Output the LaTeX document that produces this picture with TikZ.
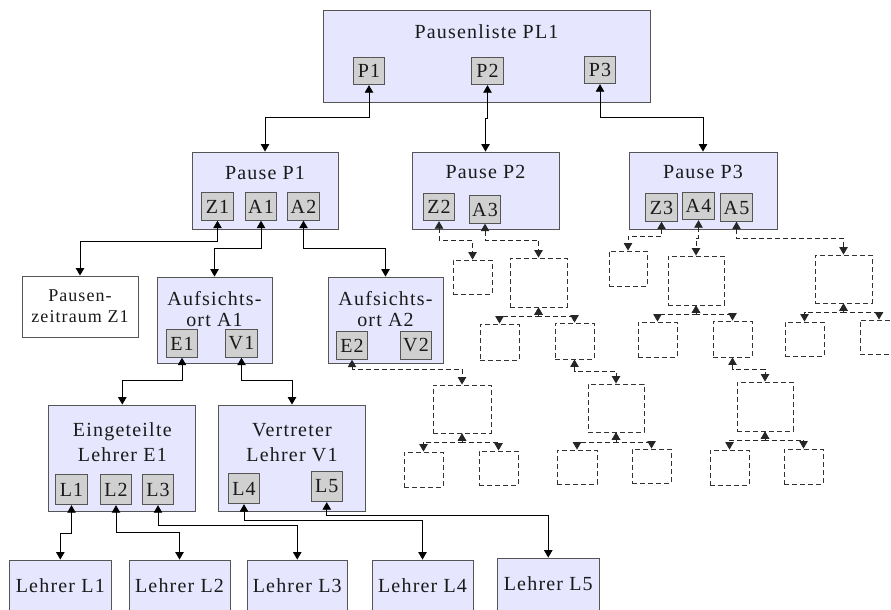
\documentclass[tikz,border=0pt]{standalone}
\usepackage{fontspec}
\setmainfont{Liberation Serif}[LetterSpace=6]
\usetikzlibrary{arrows.meta}
\definecolor{lav}{HTML}{E6E6FF}
\definecolor{subg}{HTML}{D0D0D0}
\definecolor{bord}{HTML}{555555}
\definecolor{txt}{HTML}{1A1A1A}
\newcommand\conlink[4]{\draw[#1] (#2.south) |- (#3.north |- 0,#4) -- (#3.north);}
\begin{document}
\begin{tikzpicture}[x=1pt,y=-1pt,
  every node/.style={font=\fontsize{20}{22}\selectfont, text=txt},
  box/.style={draw=bord, fill=lav, line width=0.9pt, inner sep=0pt},
  wbox/.style={box, fill=white},
  sub/.style={draw=bord, fill=subg, line width=0.9pt, inner sep=0pt, minimum width=31.5pt, minimum height=27.5pt},
  lsub/.style={sub, minimum height=30.5pt},
  dbox/.style={draw=black!80, dash pattern=on 5pt off 3pt, line width=0.9pt, inner sep=0pt},
  conn/.style={draw=black, line width=0.9pt, {Triangle[width=8.5pt,length=7.5pt]}-{Triangle[width=8.5pt,length=7.5pt]}},
  dconn/.style={conn, draw=black!85, dash pattern=on 5pt off 3pt},
  ttl/.style={anchor=base, inner sep=0pt},
  ttl2/.style={align=center, inner sep=0pt},
]
\path[use as bounding box, clip] (0,0) rectangle (891,610);

% top
\node[box, minimum width=327pt, minimum height=92pt] (PL) at (486.5,56) {};
\node[ttl] (tPL) at (486.5,38.3) {Pausenliste PL1};
\node[sub] (P1) at (369,71) {P1};
\node[sub] (P2) at (487.5,71) {P2};
\node[sub] (P3) at (600,70) {P3};

% pauses
\node[box, minimum width=146pt, minimum height=77pt] (PP1) at (265,190.5) {};
\node[ttl] (tPP1) at (265,179) {Pause P1};
\node[sub] (Z1) at (217.5,206.5) {Z1};
\node[sub] (A1) at (261,206.5) {A1};
\node[sub] (A2) at (303.5,206.5) {A2};

\node[box, minimum width=147pt, minimum height=77pt] (PP2) at (485.5,190.5) {};
\node[ttl] (tPP2) at (485.5,178) {Pause P2};
\node[sub] (Z2) at (439,207) {Z2};
\node[sub] (A3) at (485,209.5) {A3};

\node[box, minimum width=148pt, minimum height=77pt] (PP3) at (703,190.5) {};
\node[ttl] (tPP3) at (703,178) {Pause P3};
\node[sub] (Z3) at (661.5,207.5) {Z3};
\node[sub] (A4) at (698.5,206) {A4};
\node[sub] (A5) at (736.5,207.5) {A5};

% level 3
\node[wbox, minimum width=116pt, minimum height=61pt] (PZ) at (80,306.5) {};
\node[ttl2, font=\fontsize{18}{20.6}\selectfont] (tPZ) at (80,306.4) {Pausen-\\zeitraum Z1};

\node[box, minimum width=115pt, minimum height=86pt] (AO1) at (214.5,320) {};
\node[ttl2, font=\fontsize{20}{21}\selectfont] (tAO1) at (214.5,308.6) {Aufsichts-\\ort A1};
\node[sub] (E1) at (182,343.5) {E1};
\node[sub] (V1) at (241.5,343.5) {V1};

\node[box, minimum width=115pt, minimum height=86pt] (AO2) at (385.5,320) {};
\node[ttl2, font=\fontsize{20}{21}\selectfont] (tAO2) at (385.5,308.6) {Aufsichts-\\ort A2};
\node[sub] (E2) at (352,345.5) {E2};
\node[sub] (V2) at (416,345.5) {V2};

% level 4
\node[box, minimum width=147pt, minimum height=106pt] (EL) at (122.3,458) {};
\node[ttl2, font=\fontsize{20}{25}\selectfont] (tEL) at (122.3,442.6) {Eingeteilte\\Lehrer E1};
\node[lsub] (L1) at (71.5,489.5) {L1};
\node[lsub] (L2) at (116,489.5) {L2};
\node[lsub] (L3) at (158,489.5) {L3};

\node[box, minimum width=147pt, minimum height=106pt] (VL) at (292,458) {};
\node[ttl2, font=\fontsize{20}{25}\selectfont] (tVL) at (292,442.9) {Vertreter\\Lehrer V1};
\node[lsub] (L4) at (244,488.5) {L4};
\node[lsub] (L5) at (326.75,486.5) {L5};

% teachers
\node[box, minimum width=101.5pt, minimum height=60pt] (LL1) at (60.3,590) {};
\node[ttl] (tLL1) at (60.3,592) {Lehrer L1};
\node[box, minimum width=101pt, minimum height=60pt] (LL2) at (179.5,590) {};
\node[ttl] (tLL2) at (179.5,592) {Lehrer L2};
\node[box, minimum width=100.5pt, minimum height=60pt] (LL3) at (297.25,590) {};
\node[ttl] (tLL3) at (297.25,592) {Lehrer L3};
\node[box, minimum width=101pt, minimum height=60pt] (LL4) at (422.5,590) {};
\node[ttl] (tLL4) at (422.5,592) {Lehrer L4};
\node[box, minimum width=101.5pt, minimum height=64pt] (LL5) at (548.25,590) {};
\node[ttl] (tLL5) at (548.25,590) {Lehrer L5};

% dashed placeholders
\node[dbox, minimum width=39pt, minimum height=34pt] (D1) at (472.5,277) {};
\node[dbox, minimum width=57pt, minimum height=49pt] (D2) at (538.5,282.5) {};
\node[dbox, minimum width=39pt, minimum height=36pt] (D3) at (499.5,342) {};
\node[dbox, minimum width=39pt, minimum height=36pt] (D4) at (574.5,341) {};
\node[dbox, minimum width=56pt, minimum height=48pt] (D5) at (616,408) {};
\node[dbox, minimum width=40pt, minimum height=34pt] (D6) at (577,467) {};
\node[dbox, minimum width=39pt, minimum height=34pt] (D7) at (651.5,466) {};
\node[dbox, minimum width=58pt, minimum height=48pt] (D8) at (462,409) {};
\node[dbox, minimum width=39pt, minimum height=35pt] (D9) at (423.5,469.5) {};
\node[dbox, minimum width=39pt, minimum height=34pt] (D10) at (498.5,468) {};
\node[dbox, minimum width=38pt, minimum height=35pt] (D11) at (628,268.5) {};
\node[dbox, minimum width=56pt, minimum height=49pt] (D12) at (696,280.5) {};
\node[dbox, minimum width=57pt, minimum height=48pt] (D13) at (843.5,279) {};
\node[dbox, minimum width=39pt, minimum height=35pt] (D14) at (657.5,339.5) {};
\node[dbox, minimum width=39pt, minimum height=36pt] (D15) at (732.5,339) {};
\node[dbox, minimum width=56pt, minimum height=49pt] (D16) at (765,406.5) {};
\node[dbox, minimum width=39pt, minimum height=35pt] (D17) at (729.5,467.5) {};
\node[dbox, minimum width=39pt, minimum height=35pt] (D18) at (803.5,466.5) {};
\node[dbox, minimum width=39pt, minimum height=34pt] (D19) at (804.5,339) {};
\node[dbox, minimum width=38pt, minimum height=34pt] (D20) at (879,337) {};

% solid connectors
\conlink{conn}{P1}{PP1}{117}
\conlink{conn}{P2}{PP2}{118}
\conlink{conn}{P3}{PP3}{117}
\conlink{conn}{Z1}{PZ}{241}
\conlink{conn}{A1}{AO1}{248}
\conlink{conn}{A2}{AO2}{248}
\conlink{conn}{E1}{EL}{380}
\conlink{conn}{V1}{VL}{380}
\conlink{conn}{L1}{LL1}{533}
\conlink{conn}{L2}{LL2}{532}
\conlink{conn}{L3}{LL3}{525}
\conlink{conn}{L4}{LL4}{520}
\conlink{conn}{L5}{LL5}{515}

% dashed connectors
\conlink{dconn}{Z2}{D1}{240}
\conlink{dconn}{A3}{D2}{240}
\conlink{dconn}{D2}{D3}{316}
\conlink{dconn}{D2}{D4}{316}
\conlink{dconn}{D4}{D5}{371}
\conlink{dconn}{D5}{D6}{442}
\conlink{dconn}{D5}{D7}{442}
\conlink{dconn}{E2}{D8}{369}
\conlink{dconn}{D8}{D9}{442}
\conlink{dconn}{D8}{D10}{442}
\conlink{dconn}{Z3}{D11}{236}
\conlink{dconn}{A4}{D12}{238}
\conlink{dconn}{A5}{D13}{238}
\conlink{dconn}{D12}{D14}{314}
\conlink{dconn}{D12}{D15}{314}
\conlink{dconn}{D15}{D16}{369}
\conlink{dconn}{D16}{D17}{440}
\conlink{dconn}{D16}{D18}{440}
\conlink{dconn}{D13}{D19}{312}
\conlink{dconn}{D13}{D20}{312}
\end{tikzpicture}
\end{document}
